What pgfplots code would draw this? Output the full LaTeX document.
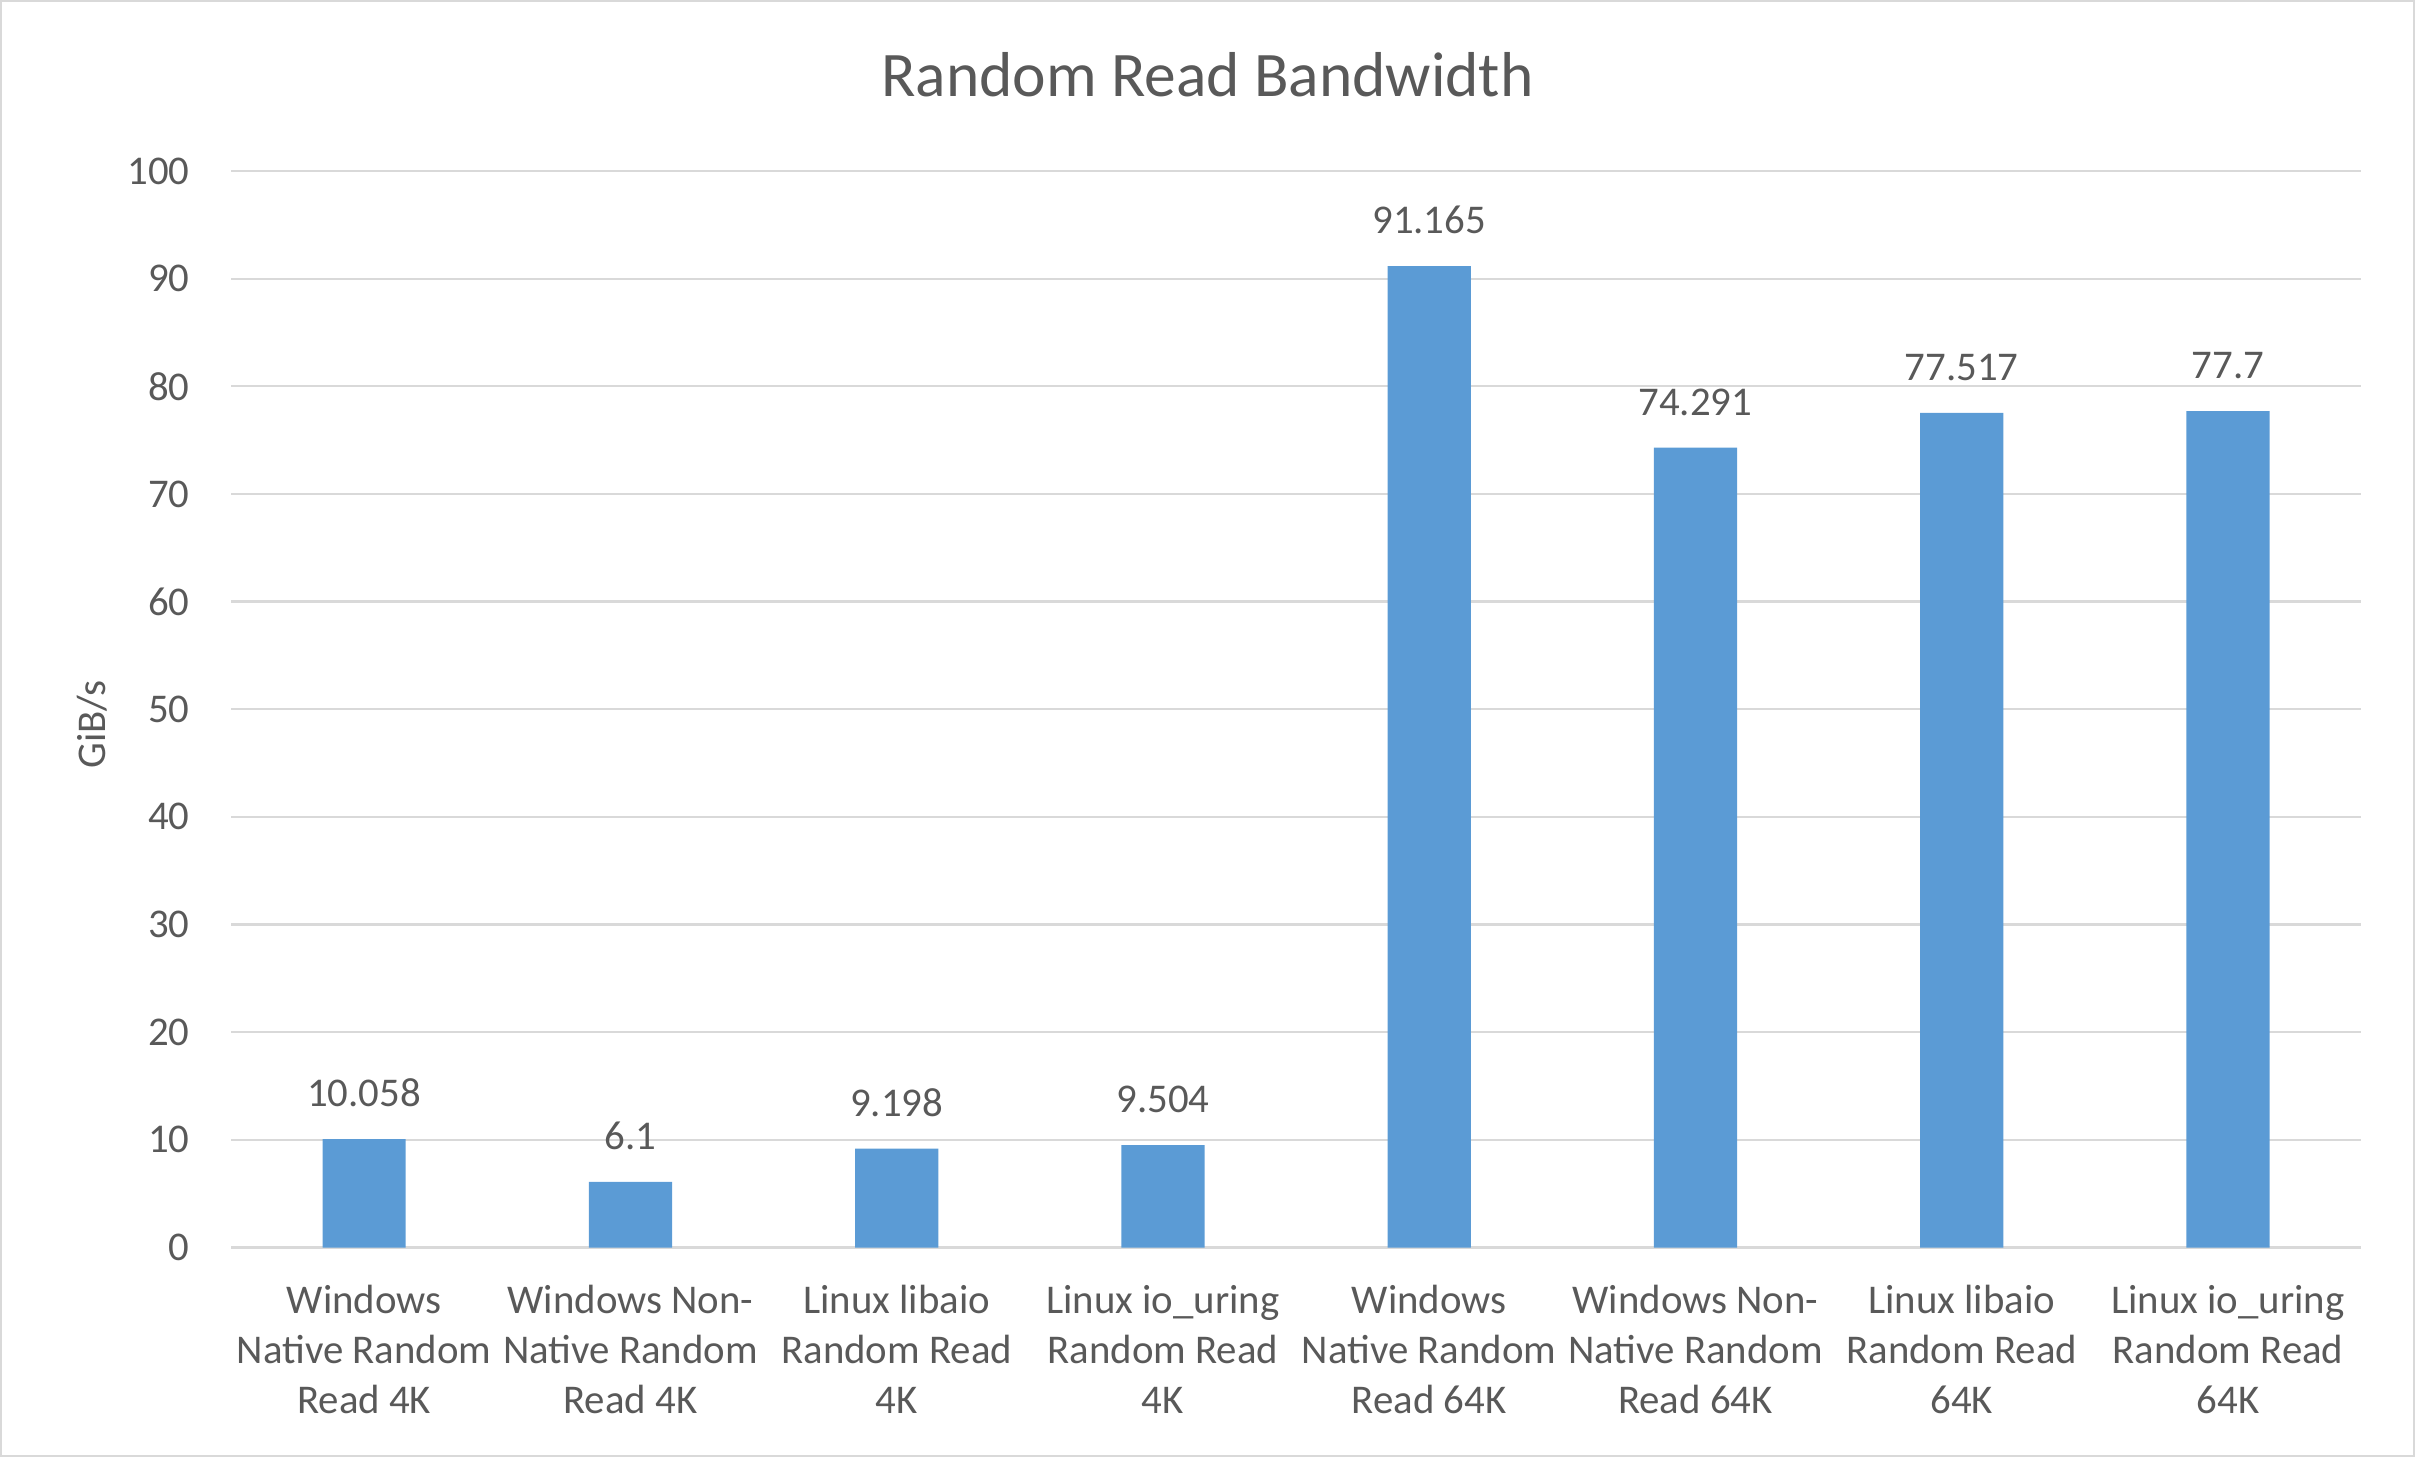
\documentclass[border=0pt]{standalone}
\usepackage{fontspec}
\setmainfont{Carlito}
\usepackage{pgfplots}
\usepackage{pgfplotstable}
\pgfplotsset{compat=1.18}

\definecolor{barblue}{HTML}{5B9BD5}
\definecolor{gridgray}{HTML}{D9D9D9}
\definecolor{textgray}{HTML}{595959}

% GiB/s per test
\pgfplotstableread{
x y
0 10.058
1 6.1
2 9.198
3 9.504
4 91.165
5 74.291
6 77.517
7 77.7
}\bwdata

\begin{document}
\begin{tikzpicture}
\useasboundingbox (0,0) rectangle (784pt,473pt);
\draw[gridgray, line width=0.8pt] (0.4pt,0.4pt) rectangle (783.6pt,472.6pt);
\node[anchor=base, text=textgray, inner sep=0pt, font=\fontsize{20.6}{24}\selectfont]
  at (392pt,441.6pt) {Random Read Bandwidth};
\begin{axis}[
    at={(75pt,68pt)}, anchor=south west,
    scale only axis,
    width=691.5pt, height=349.5pt,
    ymin=0, ymax=100,
    xmin=-0.5, xmax=7.5,
    ytick={0,10,...,100},
    xtick=data,
    xticklabels={
      {Windows\\Native Random\\Read 4K},
      {Windows Non-\\Native Random\\Read 4K},
      {Linux libaio\\Random Read\\4K},
      {Linux io\_uring\\Random Read\\4K},
      {Windows\\Native Random\\Read 64K},
      {Windows Non-\\Native Random\\Read 64K},
      {Linux libaio\\Random Read\\64K},
      {Linux io\_uring\\Random Read\\64K}},
    /pgf/number format/assume math mode=true,
    axis line style={draw=none},
    major tick length=0pt,
    ymajorgrids=true,
    grid style={gridgray, line width=0.7pt},
    tick label style={text=textgray, font=\fontsize{13.25}{16.2}\selectfont, inner sep=0pt},
    xticklabel style={align=center, yshift=-12pt},
    yticklabel style={xshift=-13.25pt},
    ylabel={GiB/s},
    every axis y label/.style={at={(axis description cs:-0.0651,0.486)}, anchor=center,
      rotate=90, text=textgray, font=\fontsize{13.25}{16.2}\selectfont},
    ybar,
    bar width=27pt,
    point meta=y,
    nodes near coords={\pgfmathprintnumber[fixed, precision=3]{\pgfplotspointmeta}},
    every node near coord/.append style={anchor=south, inner sep=0pt, yshift=10.2pt,
      text=textgray, font=\fontsize{13.25}{16.2}\selectfont},
]
\addplot[fill=barblue, draw=none] table[x=x, y=y] {\bwdata};
\end{axis}
\end{tikzpicture}
\end{document}
